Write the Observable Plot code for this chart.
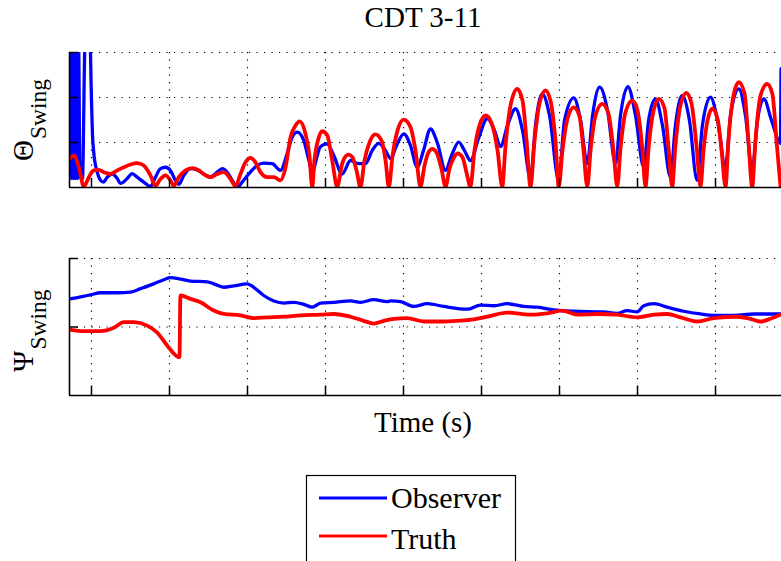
<!DOCTYPE html>
<html><head><meta charset="utf-8">
<script src="https://cdn.jsdelivr.net/npm/d3@7"></script>
<script src="https://cdn.jsdelivr.net/npm/@observablehq/plot@0.6"></script>
<style>
html,body{margin:0;padding:0;background:#fff;}
#chart{position:relative;width:781px;height:561px;overflow:hidden;font-family:"Liberation Serif","Times New Roman",serif;}
#chart svg{position:absolute;left:0;}
</style></head><body>
<div id="chart"></div>
<script>
// ---------- data ----------
const title = "CDT 3-11";
const xLabel = "Time (s)";
const seriesNames = ["Observer", "Truth"];
const seriesColors = ["#0000ff", "#ff0000"];
const timeDomain = [3.59, 49.23];
const timeTicks = [5, 10, 15, 20, 25, 30, 35, 40, 45];
const thetaDomain = [0, 30];
const thetaGrid = [10, 20, 30];
const psiDomain = [0, 20];
const psiGrid = [10, 20];

// Theta_Swing, Observer
const thetaObsTime = [3.59,3.65,3.72,3.78,3.85,3.91,3.97,4.04,4.10,4.17,4.26,4.42,4.58,4.68,4.87,5.00,5.06,5.15,5.37,5.58,5.77,6.01,6.33,6.65,6.86,7.29,7.61,7.93,8.35,8.78,9.10,9.42,9.74,10.06,10.38,10.60,10.92,11.35,11.78,12.20,12.63,13.06,13.38,13.70,14.02,14.34,14.66,15.08,15.62,16.04,16.58,17.11,17.54,17.87,18.19,18.61,18.91,19.17,19.42,19.68,20.11,20.53,21.07,21.60,22.13,22.56,22.99,23.42,23.85,24.17,24.55,25.02,25.45,25.88,26.28,26.73,27.18,27.69,28.08,28.54,28.91,29.29,29.81,30.37,30.83,31.22,31.67,32.18,32.63,33.14,33.46,33.89,34.36,34.95,35.32,35.92,36.35,36.78,37.12,37.58,38.08,38.59,38.91,39.38,39.87,40.40,40.71,41.15,41.60,42.11,42.43,42.86,43.33,43.82,44.16,44.68,45.13,45.64,45.96,46.49,46.92,47.35,47.69,48.10,48.59,49.17,49.20];
const thetaObsValue = [6.0,34.9,2.0,34.9,2.0,34.9,2.0,34.9,2.0,32.7,2.4,2.0,32.7,37.1,37.1,19.3,12.0,7.6,3.4,1.6,1.2,2.3,3.0,2.0,0.9,2.0,3.1,2.3,1.2,0.2,2.3,4.2,4.5,3.8,1.6,0.7,2.7,4.2,3.9,3.0,2.3,3.4,4.2,3.4,1.6,0.1,1.2,3.0,4.9,5.4,5.3,3.8,7.5,11.2,12.3,10.4,6.4,3.3,6.4,9.1,9.7,7.1,3.0,6.0,5.3,5.3,8.2,9.8,8.2,6.4,9.3,11.9,9.3,4.5,8.2,13.0,9.8,3.8,7.1,10.1,8.2,6.0,10.9,15.3,12.7,9.1,13.8,17.5,12.7,2.0,13.8,20.8,16.0,1.6,14.9,19.9,14.9,5.3,16.0,22.3,17.1,5.3,16.0,22.4,16.0,4.5,14.9,19.7,13.8,2.3,13.8,20.4,14.9,1.6,13.8,20.1,14.9,4.5,16.0,21.9,16.0,3.8,14.9,19.7,14.9,9.8,26.4];

// Theta_Swing, Truth
const thetaTruthTime = [3.59,3.87,4.19,4.51,4.83,5.15,5.47,5.79,6.22,6.65,7.07,7.50,7.93,8.35,8.78,9.10,9.42,9.74,10.06,10.28,10.60,11.03,11.46,11.88,12.31,12.63,13.06,13.48,13.91,14.23,14.55,14.87,15.19,15.51,15.83,16.26,16.69,17.11,17.44,17.76,18.08,18.35,18.72,18.97,19.15,19.29,19.55,19.79,20.11,20.43,20.75,21.07,21.28,21.49,21.73,21.99,22.24,22.50,22.82,23.20,23.59,23.85,24.06,24.30,24.62,25.02,25.45,25.77,26.09,26.35,26.60,26.84,27.11,27.43,27.69,27.95,28.27,28.46,28.78,29.04,29.29,29.55,29.87,30.26,30.64,31.03,31.33,31.54,31.86,32.29,32.63,32.89,33.14,33.40,33.72,34.10,34.42,34.74,34.95,35.19,35.51,35.92,36.28,36.54,36.78,36.99,37.31,37.74,38.14,38.46,38.70,38.91,39.23,39.66,40.00,40.32,40.51,40.71,41.03,41.37,41.73,41.99,42.22,42.43,42.75,43.12,43.46,43.78,44.04,44.23,44.49,44.79,45.13,45.39,45.64,45.83,46.15,46.49,46.86,47.11,47.35,47.56,47.88,48.31,48.65,48.91,49.17];
const thetaTruthValue = [6.4,7.1,4.5,0.2,2.3,3.8,3.9,3.4,3.0,3.8,4.5,5.1,5.4,4.9,2.7,0.4,1.9,2.7,1.6,0.4,2.3,3.8,4.3,3.8,2.7,2.3,3.0,3.4,1.9,0.3,3.0,5.6,6.6,5.6,3.4,2.3,2.3,1.6,4.5,11.2,13.8,14.7,11.9,7.1,0.1,6.0,10.9,12.5,11.6,6.0,0.2,5.3,6.9,7.3,6.7,3.8,0.1,6.0,10.0,11.8,10.4,6.0,0.1,7.1,12.7,15.1,13.4,8.2,0.2,4.9,7.8,8.6,7.8,4.2,0.2,4.2,6.9,7.6,6.7,3.3,0.2,8.2,13.8,16.0,14.4,8.2,0.2,9.3,18.2,21.9,19.3,10.4,0.2,10.4,18.7,21.6,19.3,10.4,0.2,8.2,15.3,17.8,15.8,8.2,0.2,8.2,16.0,18.6,16.4,8.2,0.2,8.7,16.7,19.3,17.1,8.2,0.2,8.7,17.1,19.7,17.6,8.7,0.2,9.3,18.2,21.0,18.7,9.3,0.2,8.2,14.9,17.5,15.3,8.2,0.2,10.4,20.4,23.4,20.9,10.4,0.2,10.4,20.4,23.0,20.7,10.4,0.1];

// Psi_Swing, Observer
const psiObsTime = [3.59,4.30,4.94,5.58,6.65,7.50,8.14,8.99,9.63,10.06,10.70,11.35,12.42,12.84,13.48,14.12,14.98,15.40,16.04,16.69,17.33,17.97,18.61,19.15,19.68,20.53,21.60,22.24,23.10,23.95,24.17,24.81,25.66,26.52,27.58,29.08,29.94,30.79,31.65,32.71,33.57,34.63,35.92,37.84,38.70,39.34,39.98,40.40,41.05,41.90,42.97,44.04,44.89,46.17,47.45,48.95,49.20];
const psiObsValue = [14.1,14.4,14.7,15.0,15.0,15.1,15.6,16.3,16.9,17.2,17.0,16.7,16.6,16.3,15.8,16.0,16.3,15.8,14.6,13.8,13.5,13.6,13.3,12.9,13.5,13.6,13.8,13.6,14.0,13.7,13.8,13.7,13.0,13.4,13.0,12.6,13.2,13.1,13.4,13.0,12.9,12.5,12.3,12.2,12.0,12.4,12.2,13.1,13.4,12.9,12.3,11.9,11.7,11.7,11.9,11.9,11.9];

// Psi_Swing, Truth
const psiTruthTime = [3.59,4.30,5.58,6.43,7.07,7.71,8.57,9.21,9.85,10.49,10.64,10.70,11.35,11.99,12.84,13.48,14.55,15.40,16.26,17.33,18.40,19.68,20.53,21.60,22.45,23.10,23.74,24.38,25.24,26.30,27.37,28.44,29.51,30.36,31.65,33.14,34.21,35.17,36.13,37.42,38.70,39.98,41.05,41.90,42.76,43.83,44.89,46.39,47.24,47.88,48.52,49.17];
const psiTruthValue = [9.6,9.4,9.4,9.9,10.7,10.7,10.2,9.2,7.3,5.7,5.6,14.6,14.1,13.6,12.4,11.9,11.7,11.3,11.4,11.5,11.7,11.8,11.9,11.5,10.9,10.5,10.9,11.2,11.3,10.8,10.8,10.9,11.1,11.5,12.1,11.8,12.0,12.4,11.8,11.9,11.8,11.4,11.8,11.9,11.4,10.8,11.3,11.5,11.2,10.8,11.2,11.8];

// ---------- drawing ----------
const rows = (ts, vs) => ts.map((t, i) => ({t, v: vs[i]}));
const W = 781, ML = 69, innerW = W - ML;
const chart = document.getElementById("chart");

function panel({top, mt, mb, yDomain, yGrid, obs, truth}) {
  const H = 160;
  const innerH = H - mt - mb;
  const tickPx = 9;
  const yTickLen = tickPx * (yDomain[1] - yDomain[0]) / innerH;
  const xTickLen = tickPx * (timeDomain[1] - timeDomain[0]) / innerW;
  const dotted = {stroke: "#000", strokeWidth: 1.2, strokeDasharray: "1.2,6.3"};
  const svg = Plot.plot({
    width: W, height: H,
    marginLeft: ML, marginRight: 0, marginTop: mt, marginBottom: mb,
    x: {domain: timeDomain, axis: null},
    y: {domain: yDomain, axis: null},
    style: {background: "transparent"},
    marks: [
      Plot.ruleX(timeTicks, dotted),
      Plot.ruleY(yGrid, dotted),
      Plot.line(obs, {x: "t", y: "v", stroke: seriesColors[0], strokeWidth: 3.3, curve: "monotone-x", clip: true}),
      Plot.line(truth, {x: "t", y: "v", stroke: seriesColors[1], strokeWidth: 3.8, curve: "monotone-x", clip: true}),
      Plot.ruleX(timeTicks, {y1: yDomain[0], y2: yDomain[0] + yTickLen, stroke: "#000", strokeWidth: 1.5}),
      Plot.ruleY(yGrid, {x1: timeDomain[0], x2: timeDomain[0] + xTickLen, stroke: "#000", strokeWidth: 1.5}),
      Plot.ruleY([yDomain[0]], {stroke: "#000", strokeWidth: 1.6}),
      Plot.ruleX([timeDomain[0]], {stroke: "#000", strokeWidth: 1.6})
    ]
  });
  svg.style.top = top + "px";
  chart.appendChild(svg);
}

panel({top: 40, mt: 12, mb: 13, yDomain: thetaDomain, yGrid: thetaGrid,
  obs: rows(thetaObsTime, thetaObsValue), truth: rows(thetaTruthTime, thetaTruthValue)});
panel({top: 246, mt: 12, mb: 11, yDomain: psiDomain, yGrid: psiGrid,
  obs: rows(psiObsTime, psiObsValue), truth: rows(psiTruthTime, psiTruthValue)});

// text overlay: title, axis labels, legend
const ov = d3.select(chart).append("svg")
  .attr("width", W).attr("height", 561)
  .style("top", "0px")
  .style("font-family", '"Liberation Serif","Times New Roman",serif')
  .attr("fill", "#000");

ov.append("text").attr("x", 423).attr("y", 26.5).attr("text-anchor", "middle")
  .attr("font-size", 29).text(title);
ov.append("text").attr("x", 423).attr("y", 431.5).attr("text-anchor", "middle")
  .attr("font-size", 29).text(xLabel);

function yLabel(x, y, sym) {
  const t = ov.append("text").attr("transform", `translate(${x},${y}) rotate(-90)`).attr("font-size", 29);
  t.append("tspan").text(sym);
  t.append("tspan").attr("dy", 12.5).attr("dx", 1).attr("font-size", 23.5).text("Swing");
}
yLabel(33, 161, "Θ");
yLabel(33, 372, "Ψ");

const lg = ov.append("g");
lg.append("rect").attr("x", 306.5).attr("y", 475.5).attr("width", 209).attr("height", 120)
  .attr("fill", "#fff").attr("stroke", "#000").attr("stroke-width", 1.2);
const legendLineY = [498, 536];
const legendTextY = [507.5, 549];
seriesNames.forEach((name, i) => {
  lg.append("line").attr("x1", 319).attr("x2", 387).attr("y1", legendLineY[i]).attr("y2", legendLineY[i])
    .attr("stroke", seriesColors[i]).attr("stroke-width", 3);
  lg.append("text").attr("x", 391).attr("y", legendTextY[i]).attr("font-size", 30).text(name);
});
</script>
</body></html>
